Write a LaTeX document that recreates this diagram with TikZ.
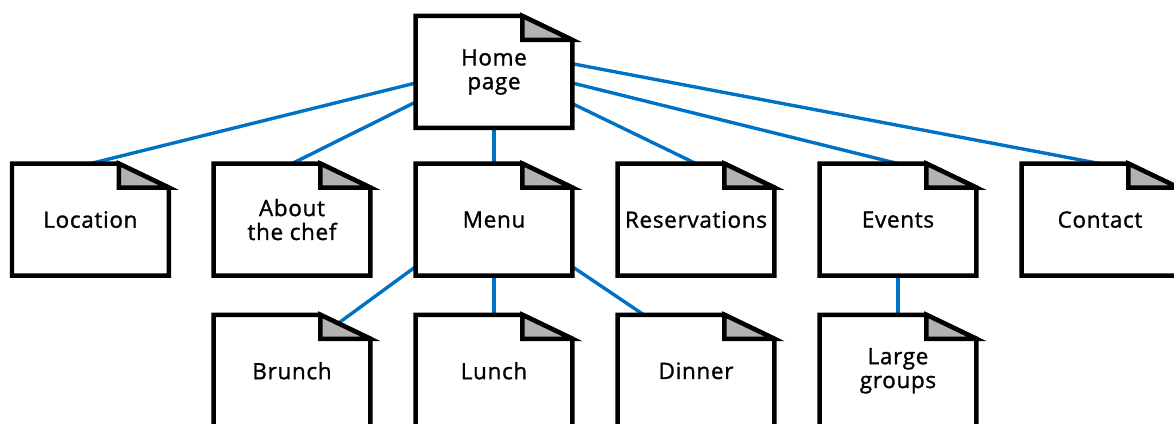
\documentclass[tikz,border=0pt]{standalone}
\usepackage{fontspec}
\setmainfont{Open Sans}[LetterSpace=3, FakeBold=1.2]
\usepackage{tikz}
\usetikzlibrary{positioning}
\definecolor{linkblue}{RGB}{0,114,198}
\definecolor{foldgray}{RGB}{178,178,178}
\tikzset{
	sheet/.style={rectangle, minimum width=3.92cm, minimum height=2.8cm, inner sep=0pt, outer sep=0pt, align=center, font=\fontsize{16}{17}\selectfont},
	outline/.style={line width=3.2pt, line join=miter},
	link/.style={draw=linkblue, line width=2.4pt}
}

\begin{document}
\begin{tikzpicture}
		\useasboundingbox (0,0) rectangle (29.35,10.6);
		% top level
		\node[sheet] (home) at (12.35,8.8) {Home\\page};
		% second row
		\node[sheet] (location) at (2.26,5.11) {Location};
		\node[sheet] (chef) at (7.3,5.11) {About\\the chef};
		\node[sheet] (menu) at (12.35,5.11) {Menu};
		\node[sheet] (reserv) at (17.4,5.11) {Reservations};
		\node[sheet] (events) at (22.45,5.11) {Events};
		\node[sheet] (contact) at (27.5,5.11) {Contact};
		% third row
		\node[sheet] (brunch) at (7.3,1.33) {Brunch};
		\node[sheet] (lunch) at (12.35,1.33) {Lunch};
		\node[sheet] (dinner) at (17.4,1.33) {Dinner};
		\node[sheet] (large) at (22.45,1.33) {Large\\groups};

		\draw[link] (home.188) -- (location.north);
		\draw[link] (home.201.6) -- (chef.north);
		\draw[link] (home.south) -- (menu.north);
		\draw[link] (home.338.4) -- (reserv.north);
		\draw[link] (home.352) -- (events.north);
		\draw[link] (home.6.5) -- (contact.north);
		\draw[link] (menu.211) -- ([shift={(-0.8,-0.21)}]brunch.north east);
		\draw[link] (menu.south) -- (lunch.north);
		\draw[link] (menu.329) -- (dinner.133);
		\draw[link] (events.south) -- (large.north);

		\foreach \n in {home,location,chef,menu,reserv,events,contact,brunch,lunch,dinner,large} {
			\draw[outline] (\n.south west) -- (\n.north west) -- ([xshift=-1.25cm]\n.north east)
				-- ([yshift=-0.6cm]\n.north east) -- (\n.south east) -- cycle;
			\filldraw[outline, fill=foldgray] ([xshift=-1.25cm]\n.north east)
				-- ([xshift=-1.25cm,yshift=-0.6cm]\n.north east) -- ([yshift=-0.6cm]\n.north east) -- cycle;
		}
	\end{tikzpicture}
\end{document}
